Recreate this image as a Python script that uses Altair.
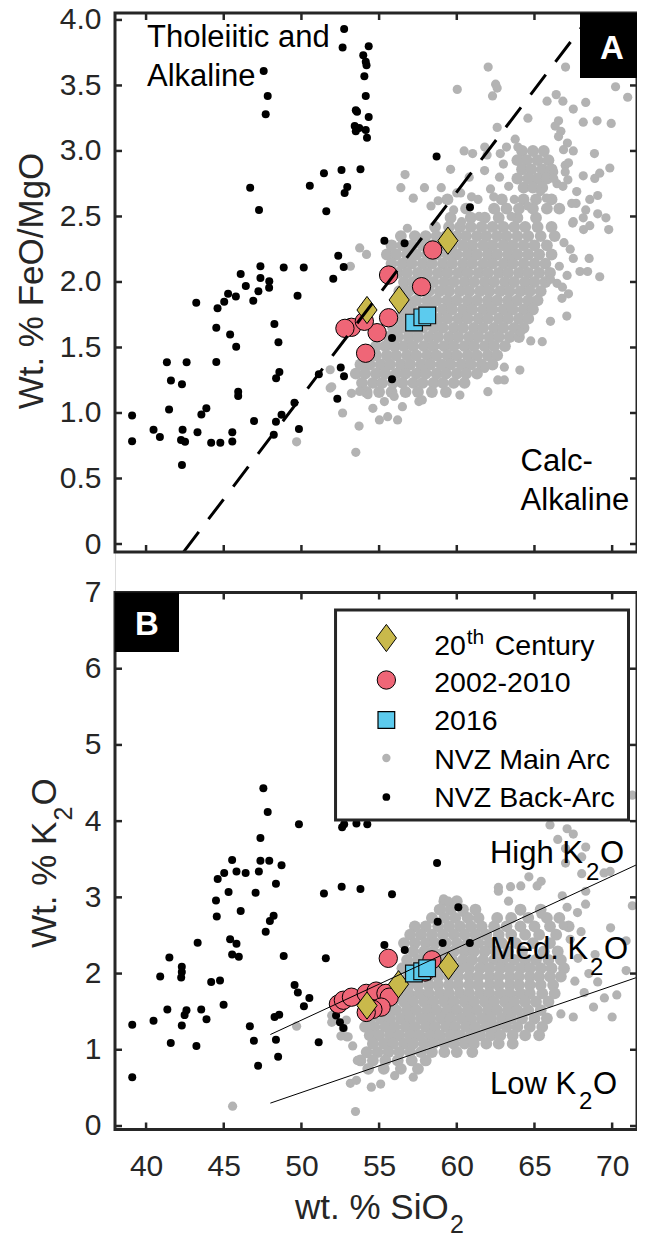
import altair as alt
import pandas as pd

FONT = "Liberation Sans"
AX = "#262626"
GRAY = "#b3b3b3"
RED = "#ef6677"
OLIVE = "#c9b94b"
CYAN = "#5ccbee"
DIAMOND = "M0,-1L0.74,0L0,1L-0.74,0Z"

W = 522            # plot width (both panels)
K = W / 529.0      # horizontal factor for annotation placement
H_TOP = 539        # panel A height
B0 = 579.5         # panel B top (pixels from panel A top)
B1 = 1116.5        # panel B bottom

# ---------------- data ----------------
sio2_domain = [38, 71.6]
feomgo_domain = [-0.061, 4.053]
k2o_domain = [-0.046, 7.0]

x_ticks = [40, 45, 50, 55, 60, 65, 70]
feomgo_ticks = [0, 0.5, 1.0, 1.5, 2.0, 2.5, 3.0, 3.5, 4.0]
k2o_ticks = [0, 1, 2, 3, 4, 5, 6, 7]

# Miyashiro tholeiitic / calc-alkaline divide (top), K2O series divides (bottom)
miyashiro_sio2 = [42.42, 68.72]
miyashiro_ratio = [-0.06, 4.05]
highk_sio2 = [48.0, 71.6]
highk_k2o = [1.20, 3.43]
lowk_sio2 = [48.0, 71.6]
lowk_k2o = [0.30, 1.95]

# Eruptive products, panel A
c20_top_sio2 = [59.43, 56.29, 54.22]
c20_top_ratio = [2.315, 1.863, 1.786]
c0210_top_sio2 = [58.45, 55.61, 57.73, 55.61, 54.87, 53.22, 52.80, 54.13, 54.05]
c0210_top_ratio = [2.244, 2.053, 1.964, 1.727, 1.613, 1.654, 1.646, 1.456, 1.700]
c2016_top_sio2 = [57.25, 57.78, 58.10]
c2016_top_ratio = [1.690, 1.730, 1.745]

# Eruptive products, panel B
c20_bot_sio2 = [54.22, 56.25, 59.47]
c20_bot_k2o = [1.58, 1.86, 2.10]
c0210_bot_sio2 = [52.38, 52.70, 53.22, 54.17, 54.81, 55.44, 55.65, 55.13, 54.60, 54.17, 55.59, 58.40, 57.95]
c0210_bot_k2o = [1.60, 1.65, 1.69, 1.74, 1.77, 1.74, 1.69, 1.56, 1.53, 1.49, 2.20, 2.18, 2.02]
c2016_bot_sio2 = [57.24, 57.77, 58.09]
c2016_bot_k2o = [2.00, 2.03, 2.07]

# NVZ back-arc, panel A  (SiO2, FeO/MgO)
backarc_top = [
    (47.57, 3.61), (47.83, 3.42), (47.70, 3.28), (46.70, 2.72), (47.27, 2.55), (50.54, 2.735), (51.45, 2.83), (51.60, 2.54),
    (46.09, 2.06), (47.36, 2.12), (48.86, 2.11), (50.15, 2.11), (46.42, 1.97), (47.36, 2.03), (47.93, 2.005), (47.23, 1.93),
    (47.92, 1.955), (45.28, 1.91), (52.05, 2.025), (52.75, 3.93), (52.65, 3.79), (54.33, 3.80), (53.98, 3.73), (54.14, 3.68),
    (54.19, 3.655), (54.05, 3.57), (54.14, 3.42), (53.50, 3.31), (53.58, 3.30), (54.33, 3.26), (53.43, 3.19), (53.72, 3.175),
    (54.14, 3.16), (53.50, 3.15), (54.22, 3.10), (58.70, 2.957), (53.80, 2.86), (52.58, 2.855), (52.95, 2.725), (52.78, 2.68),
    (60.85, 2.57), (55.34, 2.315), (56.64, 2.295), (52.37, 2.20), (52.72, 2.115), (49.75, 1.895), (45.78, 1.89), (45.03, 1.85),
    (44.60, 1.80), (43.23, 1.842), (46.90, 1.857), (48.26, 1.68), (44.52, 1.651), (45.41, 1.60), (48.52, 1.54), (45.80, 1.506),
    (41.34, 1.388), (42.61, 1.388), (44.52, 1.39), (41.60, 1.248), (42.31, 1.219), (48.58, 1.312), (48.37, 1.266), (45.93, 1.163),
    (45.93, 1.13), (41.48, 1.027), (43.88, 1.036), (43.56, 0.989), (39.10, 0.98), (48.72, 0.986), (40.48, 0.872), (40.89, 0.816),
    (42.35, 0.873), (43.31, 0.853), (45.55, 0.853), (45.55, 0.783), (44.19, 0.772), (44.78, 0.772), (46.95, 0.938), (48.36, 0.934),
    (48.22, 0.833), (49.84, 0.877), (39.10, 0.784), (42.25, 0.793), (42.51, 0.781), (42.31, 0.603), (49.55, 1.079), (51.12, 1.295),
    (52.31, 1.108), (52.53, 1.348), (52.74, 1.28), (55.83, 1.572), (55.83, 1.257),
]

# NVZ back-arc, panel B  (SiO2, K2O)
backarc_bot = [
    (47.55, 4.43), (47.83, 4.12), (49.84, 3.96), (47.36, 3.78), (45.54, 3.49), (47.36, 3.48), (47.93, 3.48), (48.72, 3.42),
    (45.03, 3.32), (45.82, 3.34), (46.41, 3.32), (47.26, 3.34), (44.61, 3.24), (45.31, 3.07), (47.05, 3.06), (48.36, 3.18),
    (51.45, 3.05), (52.59, 3.14), (53.80, 3.11), (55.83, 3.04), (52.62, 3.92), (52.75, 3.96), (53.54, 3.97), (54.24, 3.96),
    (58.73, 3.45), (60.10, 2.87), (58.77, 2.68), (55.34, 2.375), (56.65, 2.31), (59.09, 2.40), (60.84, 2.40), (44.50, 2.96),
    (44.55, 2.75), (46.09, 2.82), (48.21, 2.76), (47.97, 2.69), (47.70, 2.55), (43.32, 2.405), (45.41, 2.45), (45.82, 2.39),
    (45.54, 2.25), (45.97, 2.22), (48.86, 2.23), (51.57, 2.20), (41.50, 2.21), (42.30, 2.09), (42.30, 2.02), (42.26, 1.95),
    (40.91, 1.96), (44.19, 1.89), (44.76, 1.91), (49.56, 1.85), (49.77, 1.75), (50.51, 1.68), (50.16, 1.57), (44.99, 1.59),
    (41.37, 1.53), (42.60, 1.52), (42.48, 1.455), (43.55, 1.53), (43.89, 1.40), (40.48, 1.38), (39.11, 1.33), (42.30, 1.32),
    (48.57, 1.46), (48.27, 1.43), (46.68, 1.31), (46.94, 1.12), (48.36, 1.13), (48.50, 0.91), (47.21, 0.79), (51.11, 1.10),
    (41.59, 1.09), (43.24, 1.05), (39.11, 0.64), (52.12, 1.55), (52.23, 1.45), (52.48, 1.36), (52.70, 1.285),
]

# NVZ main arc, panel A: dense core read row by row (FeO/MgO, [SiO2 ...])
mainarc_top_rows = [
    (2.49, [59.6, 60.9, 61.8, 62.7, 63.9, 65.1]),
    (2.42, [58.6, 59.5, 60.2, 60.9, 61.6, 62.3, 63.0, 63.7, 64.4, 65.2, 66.1]),
    (2.35, [56.4, 57.3, 58.0, 58.7, 59.3, 60.0, 60.6, 61.3, 61.9, 62.6, 63.2, 63.9, 64.6, 65.4, 66.3]),
    (2.28, [55.8, 56.5, 57.1, 57.8, 58.4, 59.1, 59.7, 60.4, 61.0, 61.7, 62.3, 63.0, 63.6, 64.3, 65.0, 65.8]),
    (2.21, [55.5, 56.1, 56.8, 57.4, 58.1, 58.7, 59.4, 60.0, 60.7, 61.3, 62.0, 62.6, 63.3, 63.9, 64.6, 65.3, 66.1]),
    (2.14, [55.8, 56.5, 57.1, 57.8, 58.4, 59.1, 59.7, 60.4, 61.0, 61.7, 62.3, 63.0, 63.6, 64.3, 65.0, 65.7]),
    (2.07, [56.2, 56.8, 57.5, 58.1, 58.8, 59.4, 60.1, 60.7, 61.4, 62.0, 62.7, 63.3, 64.0, 64.6, 65.3, 66.0]),
    (2.00, [56.6, 57.2, 57.9, 58.5, 59.2, 59.8, 60.5, 61.1, 61.8, 62.4, 63.1, 63.7, 64.4, 65.0, 65.7]),
    (1.93, [56.3, 56.9, 57.6, 58.2, 58.9, 59.5, 60.2, 60.8, 61.5, 62.1, 62.8, 63.4, 64.1, 64.7, 65.4]),
    (1.86, [56.8, 57.4, 58.1, 58.7, 59.4, 60.0, 60.7, 61.3, 62.0, 62.6, 63.3, 63.9, 64.6, 65.2]),
    (1.79, [56.5, 57.1, 57.8, 58.4, 59.1, 59.7, 60.4, 61.0, 61.7, 62.3, 63.0, 63.6, 64.3, 64.9]),
    (1.72, [56.2, 56.8, 57.5, 58.1, 58.8, 59.4, 60.1, 60.7, 61.4, 62.0, 62.7, 63.3, 64.0, 64.6]),
    (1.65, [55.9, 56.5, 57.2, 57.8, 58.5, 59.1, 59.8, 60.4, 61.1, 61.7, 62.4, 63.0, 63.7, 64.3]),
    (1.58, [55.6, 56.2, 56.9, 57.5, 58.2, 58.8, 59.5, 60.1, 60.8, 61.4, 62.1, 62.7, 63.4, 64.0]),
    (1.51, [54.8, 55.4, 56.0, 56.6, 57.2, 57.9, 58.5, 59.2, 59.8, 60.5, 61.1, 61.8, 62.4, 63.1]),
    (1.44, [54.2, 54.8, 55.5, 56.1, 56.8, 57.4, 58.1, 58.7, 59.4, 60.0, 60.7, 61.3, 62.0, 62.6]),
    (1.37, [53.8, 54.4, 55.1, 55.7, 56.4, 57.0, 57.7, 58.3, 59.0, 59.6, 60.3, 60.9, 61.6, 62.3]),
    (1.30, [53.5, 54.1, 54.8, 55.4, 56.1, 56.7, 57.4, 58.0, 58.7, 59.3, 60.0, 60.6, 61.3]),
    (1.23, [53.9, 54.6, 55.2, 55.9, 56.5, 57.2, 57.8, 58.5, 59.1, 59.8, 60.5]),
    (1.16, [54.2, 55.0, 55.8, 56.7, 57.5, 58.4, 59.3]),
    (3.00, [64.2, 64.9, 65.6]),
    (2.93, [63.9, 64.5, 65.2, 65.9]),
    (2.86, [64.2, 64.8, 65.5, 66.1]),
    (2.79, [63.9, 64.6, 65.2, 65.8]),
    (2.72, [64.3, 64.9, 65.5]),
    (2.63, [59.4, 62.9, 64.3, 65.1, 66.1]),
    (2.56, [60.6, 62.4, 63.2, 64.0, 64.9, 65.8, 66.6]),
]

# NVZ main arc, panel A: scattered fringe points (SiO2, FeO/MgO)
mainarc_top_extra = [
    (62.02, 3.64), (60.03, 3.47), (62.50, 3.51), (62.60, 3.48), (62.30, 3.42), (67.00, 3.64), (70.22, 3.49), (71.00, 3.41),
    (65.81, 3.38), (66.40, 3.43), (66.83, 3.38), (67.50, 3.32), (68.30, 3.37), (64.58, 3.25), (62.60, 3.18), (63.76, 3.09),
    (63.93, 3.03), (66.55, 3.23), (66.70, 3.15), (66.55, 3.11), (66.33, 3.19), (68.14, 3.22), (69.03, 3.23), (69.94, 3.21),
    (60.47, 3.00), (61.02, 2.98), (61.80, 3.03), (61.95, 2.97), (62.80, 2.98), (63.20, 3.03), (67.12, 3.06), (67.50, 3.00),
    (68.86, 2.98), (66.87, 3.01), (56.67, 2.82), (56.40, 2.72), (57.92, 2.72), (57.20, 2.64), (58.34, 2.58), (56.82, 2.41),
    (60.31, 2.46), (61.43, 2.50), (60.00, 2.68), (60.25, 2.68), (60.95, 2.65), (61.37, 2.63), (61.79, 2.85), (62.75, 2.80),
    (62.17, 2.71), (62.38, 2.65), (63.34, 2.73), (63.70, 2.63), (64.58, 2.58), (65.39, 2.69), (65.77, 2.64), (66.45, 2.75),
    (66.83, 2.73), (67.15, 2.78), (67.72, 2.69), (68.14, 2.81), (68.88, 2.79), (69.20, 2.83), (69.85, 2.87), (66.98, 2.89),
    (67.19, 2.91), (66.24, 2.84), (66.24, 2.79), (66.98, 2.84), (67.68, 2.60), (67.40, 2.60), (68.56, 2.63), (69.07, 2.66),
    (68.30, 2.55), (69.07, 2.52), (69.60, 2.49), (68.14, 2.49), (67.46, 2.45), (69.78, 2.40), (68.16, 2.40), (68.56, 2.43),
    (67.50, 2.46), (67.50, 2.18), (68.52, 2.18), (67.93, 2.08), (68.42, 2.08), (69.20, 2.04), (53.75, 2.26), (54.19, 2.21),
    (53.15, 2.12), (67.08, 1.74), (66.77, 1.875), (67.19, 1.91), (66.03, 1.70), (65.50, 1.544), (64.76, 1.55), (64.12, 1.62),
    (66.45, 1.99), (66.03, 2.02), (51.85, 1.33), (51.95, 1.20), (52.65, 1.00), (53.71, 0.90), (53.50, 0.70), (53.22, 1.15),
    (53.75, 1.165), (54.28, 1.14), (54.60, 1.036), (55.02, 0.947), (55.55, 0.972), (56.19, 0.947), (56.50, 1.048), (55.97, 1.126),
    (55.34, 1.087), (57.56, 1.087), (57.78, 1.10), (60.20, 1.137), (62.00, 1.163), (62.64, 1.252), (63.06, 1.252), (64.06, 1.328),
    (61.79, 1.34), (63.06, 1.35), (49.69, 0.78), (51.85, 1.19), (66.90, 2.30), (67.30, 2.25), (66.60, 2.12), (67.10, 2.05),
    (66.80, 1.96), (63.00, 2.90), (62.50, 2.55), (63.50, 2.50), (60.80, 2.80), (59.60, 2.86), (59.00, 2.72), (58.80, 2.62),
    (59.80, 2.55),
]

# NVZ main arc, panel B: dense core read row by row (K2O, [SiO2 ...])
mainarc_bot_rows = [
    (2.95, [59.2, 60.0]),
    (2.84, [58.9, 59.6, 60.4, 61.2, 64.1, 65.4]),
    (2.73, [58.4, 59.2, 59.9, 60.7, 61.4, 62.6, 63.5, 64.6, 65.8, 66.6]),
    (2.62, [57.3, 58.0, 58.8, 59.5, 60.2, 60.9, 61.6, 62.4, 63.2, 64.1, 65.0, 66.0, 67.2]),
    (2.51, [57.0, 57.7, 58.4, 59.1, 59.8, 60.5, 61.2, 61.9, 62.7, 63.5, 64.4, 65.3, 66.4]),
    (2.40, [56.6, 57.3, 58.0, 58.6, 59.3, 60.0, 60.7, 61.4, 62.1, 62.9, 63.8, 64.9, 66.0]),
    (2.29, [57.2, 57.9, 58.5, 59.2, 59.8, 60.5, 61.1, 61.8, 62.5, 63.3, 64.2, 65.6, 66.5]),
    (2.18, [56.8, 57.5, 59.0, 59.7, 60.4, 61.0, 61.7, 62.4, 63.0, 63.7, 64.4, 65.1, 65.9, 66.7]),
    (2.07, [56.5, 57.2, 58.9, 59.5, 60.2, 60.8, 61.5, 62.1, 62.8, 63.4, 64.1, 64.7, 65.4, 66.1, 66.9]),
    (1.96, [56.9, 57.5, 58.2, 58.8, 59.5, 60.1, 60.8, 61.4, 62.1, 62.7, 63.4, 64.0, 64.7, 65.3, 66.0, 66.7]),
    (1.85, [56.2, 56.9, 57.5, 58.2, 58.8, 59.5, 60.1, 60.8, 61.4, 62.1, 62.7, 63.4, 64.0, 64.7, 65.4, 66.2]),
    (1.74, [55.6, 56.3, 56.9, 57.6, 58.2, 58.9, 59.5, 60.2, 60.8, 61.5, 62.1, 62.8, 63.4, 64.1, 64.7, 65.5, 66.3]),
    (1.63, [55.3, 55.9, 56.6, 57.2, 57.9, 58.5, 59.2, 59.8, 60.5, 61.1, 61.8, 62.4, 63.1, 63.7, 64.4, 65.1, 65.9]),
    (1.52, [54.8, 55.5, 56.1, 56.8, 57.4, 58.1, 58.7, 59.4, 60.0, 60.7, 61.3, 62.0, 62.6, 63.3, 63.9, 64.6, 65.4]),
    (1.41, [54.4, 55.1, 55.7, 56.4, 57.0, 57.7, 58.3, 59.0, 59.6, 60.3, 60.9, 61.6, 62.2, 62.9, 63.5, 64.2, 65.0, 65.8]),
    (1.30, [54.1, 54.7, 55.4, 56.0, 56.7, 57.3, 58.0, 58.6, 59.3, 59.9, 60.6, 61.2, 61.9, 62.5, 63.2, 63.9, 64.7, 65.5]),
    (1.19, [54.4, 55.0, 55.7, 56.3, 57.0, 57.6, 58.3, 58.9, 59.6, 60.2, 60.9, 61.5, 62.2, 62.8, 63.6, 64.4, 65.3]),
    (1.08, [54.6, 55.3, 55.9, 56.6, 57.2, 57.9, 58.5, 59.2, 59.8, 60.5, 61.1, 61.9, 62.7, 63.6]),
    (0.97, [54.2, 54.9, 55.6, 56.3, 57.0, 57.7, 58.4, 59.2, 60.0, 61.0]),
    (0.86, [53.8, 54.6, 55.4, 56.2, 57.1, 58.0]),
    (0.75, [54.3, 55.3, 56.4, 57.5]),
]

# NVZ main arc, panel B: scattered fringe points (SiO2, K2O)
mainarc_bot_extra = [
    (67.10, 3.90), (67.50, 3.83), (66.50, 3.76), (67.00, 3.64), (68.30, 3.66), (71.30, 4.34), (66.00, 3.95), (63.46, 3.14),
    (64.12, 3.15), (64.64, 3.27), (62.68, 3.13), (65.43, 3.21), (65.17, 3.15), (67.00, 3.45), (68.04, 3.53), (68.04, 3.31),
    (68.30, 3.08), (66.79, 3.02), (69.48, 3.32), (69.87, 3.34), (67.10, 2.87), (67.77, 2.80), (68.29, 2.91), (66.85, 2.63),
    (64.64, 2.74), (65.42, 2.78), (64.10, 2.82), (63.33, 2.95), (62.68, 3.08), (59.15, 2.98), (59.46, 2.95), (59.89, 2.90),
    (60.41, 2.80), (60.73, 2.74), (69.07, 1.89), (70.00, 1.43), (70.90, 2.04), (68.80, 1.56), (67.50, 1.43), (66.70, 1.47),
    (70.90, 2.43), (71.30, 2.89), (67.80, 2.20), (68.50, 2.00), (68.20, 1.75), (69.50, 1.68), (67.60, 1.90), (68.90, 2.25),
    (70.30, 1.72), (67.30, 2.45), (68.00, 2.55), (69.90, 2.60), (45.57, 0.26), (53.48, 0.19), (53.15, 0.56), (53.54, 0.60),
    (54.50, 0.51), (55.10, 0.55), (54.19, 0.95), (49.69, 1.31), (51.95, 1.36), (52.18, 1.39), (52.89, 1.39), (53.01, 1.17),
    (51.95, 1.45), (52.70, 1.28), (52.90, 1.17), (53.30, 1.05), (53.60, 0.86), (56.00, 0.66), (57.20, 0.64), (52.54, 1.18),
]


# ---------------- helpers ----------------
def rows_df(rows):
    xs, ys = [], []
    for yv, xlist in rows:
        for xv in xlist:
            xs.append(xv)
            ys.append(yv)
    return pd.DataFrame({"sio2": xs, "val": ys})


def pairs_df(pairs):
    return pd.DataFrame({"sio2": [p[0] for p in pairs], "val": [p[1] for p in pairs]})


def xy_df(xs, ys):
    return pd.DataFrame({"sio2": xs, "val": ys})


X = alt.X(
    "sio2", type="quantitative",
    scale=alt.Scale(domain=sio2_domain, nice=False, zero=False),
    axis=alt.Axis(values=x_ticks, orient="bottom", ticks=False, tickSize=0, domain=False, grid=False,
                  title="", labelFont=FONT, labelFontSize=30, labelColor=AX, labelPadding=22,
                  labelFlush=False, labelOverlap=False),
)


def y_enc(domain, rng, ticks, label_expr):
    return alt.Y(
        "val", type="quantitative",
        scale=alt.Scale(domain=domain, range=rng, nice=False, zero=False),
        axis=alt.Axis(values=ticks, orient="left", ticks=False, tickSize=0, domain=False, grid=False,
                      title="", labelFont=FONT, labelFontSize=30, labelColor=AX, labelPadding=14,
                      labelFlush=False, labelOverlap=False, labelExpr=label_expr),
    )


Y_TOP = y_enc(feomgo_domain, [H_TOP, 0], feomgo_ticks,
              "datum.value == 0 ? '0' : format(datum.value, '.1f')")
Y_BOT = y_enc(k2o_domain, [B1, B0], k2o_ticks, "format(datum.value, 'd')")


def txt(label, x, y, size, align="left", angle=0, weight="normal", color="black", baseline="alphabetic"):
    return alt.Chart(pd.DataFrame({"label": [label]})).mark_text(
        font=FONT, fontSize=size, align=align, baseline=baseline, angle=angle,
        fontWeight=weight, color=color,
    ).encode(x=alt.value(x), y=alt.value(y), text="label:N")


def box(x1, x2, y1, y2, fill, sw=0, fill_opacity=1):
    if sw > 0:
        m = alt.Chart(pd.DataFrame({"k": [0]})).mark_rect(
            fill=fill, fillOpacity=fill_opacity, stroke=AX, strokeWidth=sw)
    else:
        m = alt.Chart(pd.DataFrame({"k": [0]})).mark_rect(fill=fill)
    return m.encode(x=alt.value(x1), x2=alt.value(x2), y=alt.value(y1), y2=alt.value(y2))


def sym(x, y, shape, size, fill, sw=0):
    if sw > 0:
        m = alt.Chart(pd.DataFrame({"k": [0]})).mark_point(
            shape=shape, size=size, filled=True, fill=fill, stroke="black", strokeWidth=sw, opacity=1)
    else:
        m = alt.Chart(pd.DataFrame({"k": [0]})).mark_point(
            shape=shape, size=size, filled=True, fill=fill, opacity=1)
    return m.encode(x=alt.value(x), y=alt.value(y))


def data_layers(Y, core_df, fringe_df, black_df, c20_df, c0210_df, c2016_df):
    return [
        alt.Chart(core_df).mark_circle(size=140, color=GRAY, opacity=1).encode(x=X, y=Y),
        alt.Chart(fringe_df).mark_circle(size=85, color=GRAY, opacity=1).encode(x=X, y=Y),
        alt.Chart(black_df).mark_circle(size=64, color="black", opacity=1).encode(x=X, y=Y),
        alt.Chart(c0210_df).mark_point(shape="circle", size=336, filled=True, fill=RED,
                                       stroke="black", strokeWidth=1, opacity=1).encode(x=X, y=Y),
        alt.Chart(c20_df).mark_point(shape=DIAMOND, size=740, filled=True, fill=OLIVE,
                                     stroke="black", strokeWidth=1, opacity=1).encode(x=X, y=Y),
        alt.Chart(c2016_df).mark_point(shape="square", size=279, filled=True, fill=CYAN,
                                       stroke="#111111", strokeWidth=1.2, opacity=1).encode(x=X, y=Y),
    ]


def tick_layers(Y, yticks, y_top, y_bottom):
    xt = pd.DataFrame({"sio2": x_ticks})
    yt = pd.DataFrame({"val": yticks})
    rule = dict(color=AX, strokeWidth=2.5)
    return [
        alt.Chart(xt).mark_rule(**rule).encode(x=X, y=alt.value(y_bottom), y2=alt.value(y_bottom - 7)),
        alt.Chart(xt).mark_rule(**rule).encode(x=X, y=alt.value(y_top), y2=alt.value(y_top + 7)),
        alt.Chart(yt).mark_rule(**rule).encode(y=Y, x=alt.value(0), x2=alt.value(7)),
        alt.Chart(yt).mark_rule(**rule).encode(y=Y, x=alt.value(W), x2=alt.value(W - 7)),
    ]


# ---------------- panel A ----------------
top_layers = data_layers(
    Y_TOP, rows_df(mainarc_top_rows), pairs_df(mainarc_top_extra), pairs_df(backarc_top),
    xy_df(c20_top_sio2, c20_top_ratio), xy_df(c0210_top_sio2, c0210_top_ratio),
    xy_df(c2016_top_sio2, c2016_top_ratio),
)
top_layers.append(
    alt.Chart(xy_df(miyashiro_sio2, miyashiro_ratio)).mark_line(
        color="black", strokeWidth=3, strokeDash=[25, 16]).encode(x=X, y=Y_TOP)
)
top_layers += tick_layers(Y_TOP, feomgo_ticks, 0, H_TOP)
top_layers += [
    box(0, W, 0, H_TOP, "white", sw=3, fill_opacity=0),
    box(W - 57, W + 1, 0, 65, "black"),
    txt("A", W - 25, 36, 33, align="center", weight="bold", color="white", baseline="middle"),
    txt("Tholeiitic and", 32, 33.5, 31),
    txt("Alkaline", 32, 72.5, 31),
    txt("Calc-", 411 * K, 458, 31),
    txt("Alkaline", 411 * K, 497, 31),
    txt("Wt. % FeO/MgO", -72, 268, 35, align="center", angle=270, color=AX),
]
top = alt.layer(*top_layers)

# ---------------- panel B ----------------
bot_layers = data_layers(
    Y_BOT, rows_df(mainarc_bot_rows), pairs_df(mainarc_bot_extra), pairs_df(backarc_bot),
    xy_df(c20_bot_sio2, c20_bot_k2o), xy_df(c0210_bot_sio2, c0210_bot_k2o),
    xy_df(c2016_bot_sio2, c2016_bot_k2o),
)
bot_layers += [
    alt.Chart(xy_df(highk_sio2, highk_k2o)).mark_line(color="black", strokeWidth=1).encode(x=X, y=Y_BOT),
    alt.Chart(xy_df(lowk_sio2, lowk_k2o)).mark_line(color="black", strokeWidth=1).encode(x=X, y=Y_BOT),
]
bot_layers += tick_layers(Y_BOT, k2o_ticks, B0, B1)
LX0, LX1, LY0, LY1 = 223.5 * K, W - 8.5, B0 + 17.5, B0 + 227.5
SX, TX = 275 * K, 323.5 * K
TL = 380 * K
bot_layers += [
    box(0, W, B0, B1, "white", sw=3, fill_opacity=0),
    txt("High K", TL, B0 + 270, 31), txt("2", TL + 96, B0 + 287.5, 24), txt("O", TL + 110, B0 + 270, 31),
    txt("Med. K", TL, B0 + 366, 31), txt("2", TL + 100, B0 + 382.5, 24), txt("O", TL + 114, B0 + 366, 31),
    txt("Low K", TL, B0 + 501, 31), txt("2", TL + 89, B0 + 516, 24), txt("O", TL + 103, B0 + 501, 31),
    box(LX0, LX1, LY0, LY1, "white", sw=3),
    sym(SX, B0 + 45.5, DIAMOND, 740, OLIVE, 1),
    sym(SX, B0 + 87.5, "circle", 336, RED, 1),
    sym(SX, B0 + 127.5, "square", 279, CYAN, 1.2),
    sym(SX, B0 + 165.5, "circle", 70, GRAY),
    sym(SX, B0 + 204.5, "circle", 60, "black"),
    txt("20", TX, B0 + 62.5, 28.5), txt("th", TX + 32.5, B0 + 51.5, 21), txt("Century", TX + 60.5, B0 + 62.5, 28.5),
    txt("2002-2010", TX, B0 + 99, 28.5),
    txt("2016", TX, B0 + 137.5, 28.5),
    txt("NVZ Main Arc", TX, B0 + 176, 28.5),
    txt("NVZ Back-Arc", TX, B0 + 214.5, 28.5),
    box(0, 64, B0, B0 + 59.5, "black"),
    txt("B", 32, B0 + 32.5, 33, align="center", weight="bold", color="white", baseline="middle"),
    txt("Wt. % K", -59.5, B0 + 355.5, 35, angle=270, color=AX),
    txt("2", -43.5, B0 + 228, 25, angle=270, color=AX),
    txt("O", -59.5, B0 + 213, 35, angle=270, color=AX),
    txt("wt. % SiO", 180, B0 + 626, 35, color=AX),
    txt("2", 335, B0 + 640.5, 25, color=AX),
]
bottom = alt.layer(*bot_layers)

chart = alt.layer(top, bottom).resolve_scale(y="independent").properties(
    width=W, height=B1,
    autosize=alt.AutoSizeParams(type="none"),
    padding={"left": 107, "top": 5, "right": 0, "bottom": 107},
).configure_view(strokeWidth=0).configure(font=FONT)

chart.save("out.html", embed_options={"renderer": "svg", "actions": False})
